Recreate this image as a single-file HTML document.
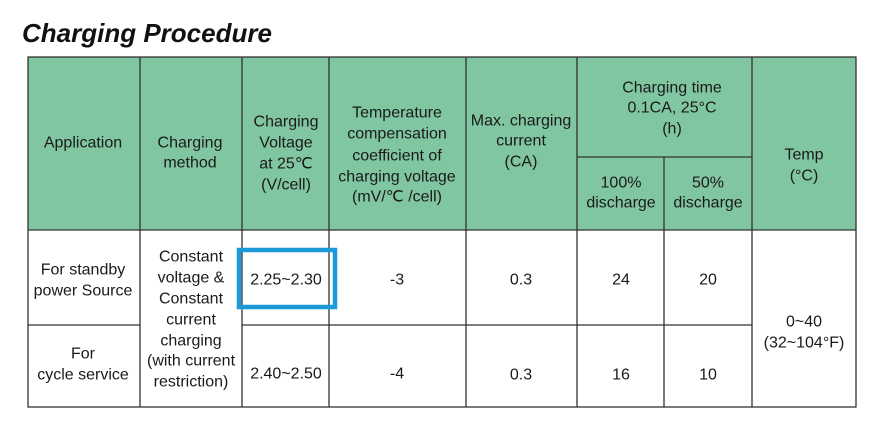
<!DOCTYPE html>
<html><head><style>
html,body{margin:0;padding:0;background:#fff;}
svg{display:block;}
text{font-family:"Liberation Sans",Arial,sans-serif;font-size:16px;fill:#1a1a1a;text-anchor:middle;dominant-baseline:central;}
</style></head><body>
<svg width="869" height="433" viewBox="0 0 869 433">
<text x="22" y="33" style="font-size:26px;font-weight:bold;font-style:italic;text-anchor:start;fill:#111">Charging Procedure</text>
<rect x="28" y="57" width="828" height="173" fill="#80c6a1"/>
<g stroke="#333" stroke-width="1.3" fill="none">
<rect x="28" y="57" width="828" height="350"/>
<line x1="28" y1="230" x2="856" y2="230"/>
<line x1="28" y1="325" x2="140" y2="325"/>
<line x1="242" y1="325" x2="752" y2="325"/>
<line x1="577" y1="157" x2="752" y2="157"/>
<line x1="140" y1="57" x2="140" y2="407"/>
<line x1="242" y1="57" x2="242" y2="407"/>
<line x1="329" y1="57" x2="329" y2="407"/>
<line x1="466" y1="57" x2="466" y2="407"/>
<line x1="577" y1="57" x2="577" y2="407"/>
<line x1="664" y1="157" x2="664" y2="407"/>
<line x1="752" y1="57" x2="752" y2="407"/>
</g>
<text x="83" y="143">Application</text>
<text x="190" y="143">Charging</text><text x="190" y="163">method</text>
<text x="286" y="122">Charging</text><text x="286" y="143">Voltage</text><text x="286" y="164">at 25℃</text><text x="286" y="185">(V/cell)</text>
<text x="397" y="113">Temperature</text><text x="397" y="134">compensation</text><text x="397" y="156">coefficient of</text><text x="397" y="177">charging voltage</text><text x="397" y="197">(mV/℃ /cell)</text>
<text x="521" y="121">Max. charging</text><text x="521" y="141">current</text><text x="521" y="162">(CA)</text>
<text x="672" y="88">Charging time</text><text x="672" y="108">0.1CA, 25°C</text><text x="672" y="129">(h)</text>
<text x="621" y="183">100%</text><text x="621" y="203">discharge</text>
<text x="708" y="183">50%</text><text x="708" y="203">discharge</text>
<text x="804" y="155">Temp</text><text x="804" y="176">(°C)</text>
<text x="83" y="270">For standby</text><text x="83" y="291">power Source</text>
<text x="83" y="354">For</text><text x="83" y="375">cycle service</text>
<text x="191" y="257">Constant</text><text x="191" y="278">voltage &amp;</text><text x="191" y="299">Constant</text><text x="191" y="320">current</text><text x="191" y="341">charging</text><text x="191" y="361">(with current</text><text x="191" y="382">restriction)</text>
<text x="286" y="280">2.25~2.30</text><text x="286" y="374">2.40~2.50</text>
<text x="397" y="280">-3</text><text x="397" y="374">-4</text>
<text x="521" y="280">0.3</text><text x="521" y="375">0.3</text>
<text x="621" y="280">24</text><text x="621" y="375">16</text>
<text x="708" y="280">20</text><text x="708" y="375">10</text>
<text x="804" y="322">0~40</text><text x="804" y="343">(32~104°F)</text>
<rect x="239" y="250" width="96" height="57" fill="none" stroke="#1a9ad8" stroke-width="4.5"/>
</svg>
</body></html>
